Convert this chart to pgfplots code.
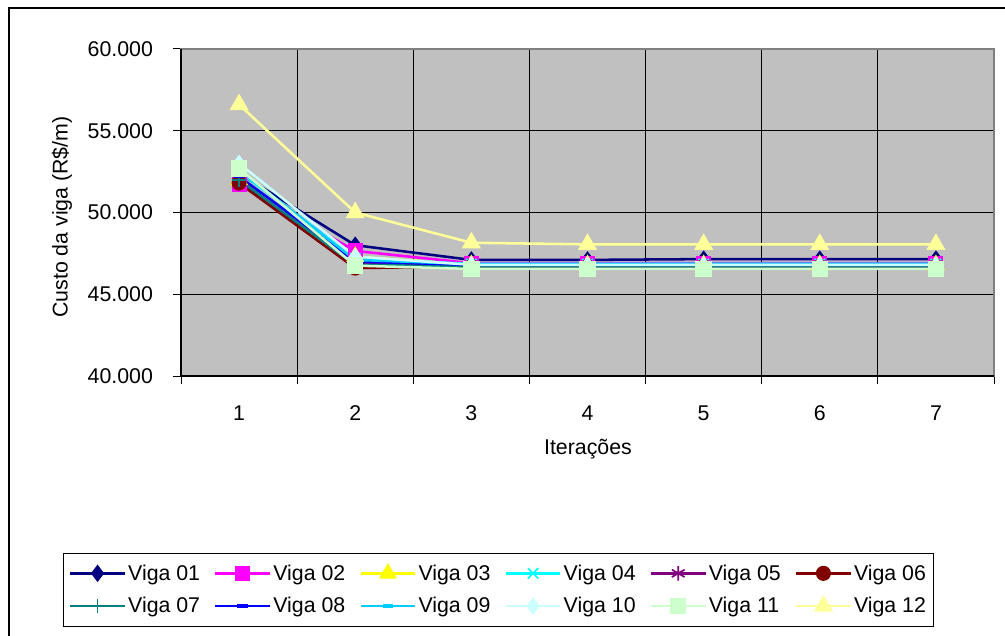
\documentclass[border=0pt]{standalone}
\usepackage{fontspec}
\setmainfont{Liberation Sans}
\usepackage{pgfplots}
\pgfplotsset{compat=1.18}

\definecolor{c01}{HTML}{000080}
\definecolor{c02}{HTML}{FF00FF}
\definecolor{c03}{HTML}{FFFF00}
\definecolor{c04}{HTML}{00FFFF}
\definecolor{c05}{HTML}{800080}
\definecolor{c06}{HTML}{800000}
\definecolor{c07}{HTML}{008080}
\definecolor{c08}{HTML}{0000FF}
\definecolor{c09}{HTML}{00CCFF}
\definecolor{c10}{HTML}{CCFFFF}
\definecolor{c11}{HTML}{CCFFCC}
\definecolor{c12}{HTML}{FFFF99}
\definecolor{plotbg}{HTML}{C0C0C0}
\definecolor{plotedge}{HTML}{808080}

\newcommand{\chartfont}{\fontsize{16}{19}\selectfont}

\pgfplotsset{
  viga/.style n args={2}{color=#1, line width=1.9pt, mark=#2,
    mark options={solid, fill=#1, line width=1.3pt}},
}

\begin{document}
\begin{tikzpicture}
\useasboundingbox (0,0) rectangle (753.75pt,476.25pt);
\fill[white] (0,0) rectangle (753.75pt,476.25pt);
% chart frame
\draw[line width=1.3pt] (6.75pt,-10pt) -- (6.75pt,470.25pt) -- (770pt,470.25pt);

\begin{axis}[
  name=ax,
  at={(135.75pt,194.25pt)}, anchor=south west,
  scale only axis, width=609.75pt, height=245.25pt,
  xmin=0.5, xmax=7.5, ymin=40000, ymax=60000,
  scaled y ticks=false,
  xtick={0.5,1.5,...,7.5},
  x tick label as interval,
  xticklabels={1,2,3,4,5,6,7},
  ytick={40000,45000,50000,55000,60000},
  yticklabels={40.000,45.000,50.000,55.000,60.000},
  xtick pos=bottom, ytick pos=left,
  xmajorgrids, ymajorgrids,
  grid style={black, line width=0.75pt},
  tick align=outside, major tick length=6pt,
  tick style={black, line width=0.75pt},
  axis line style={plotedge, line width=1pt},
  axis background/.style={fill=plotbg},
  ticklabel style={font=\chartfont},
  yticklabel style={xshift=-11.5pt},
  xticklabel style={yshift=-12.5pt},
  label style={font=\chartfont},
  xlabel={Iterações},
  ylabel={Custo da viga (R\$/m)},
  xlabel style={at={(axis description cs:0.5006,-0.224)}, anchor=center},
  ylabel style={at={(axis description cs:-0.1464,0.486)}, anchor=center},
  legend columns=6,
  legend style={
    at={(0.3905,-0.5413)}, anchor=north,
    draw=black, fill=white,
    font=\chartfont,
    inner xsep=4pt, inner ysep=7pt,
    nodes={inner sep=1.5pt},
    /tikz/every even column/.append style={column sep=9pt},
    /tikz/row sep=8.5pt,
  },
  legend cell align=left,
  legend image code/.code={
    \draw[line width=1.9pt, mark repeat=2, mark phase=2]
      plot coordinates {(0pt,0pt) (20.5pt,0pt) (41pt,0pt)};
  },
]
\addplot[viga={c01}{diamond*}, mark size=5.5pt] coordinates
  {(1,52400) (2,48000) (3,47100) (4,47100) (5,47150) (6,47150) (7,47150)};
\addplot[viga={c02}{square*}, mark size=5pt] coordinates
  {(1,51700) (2,47650) (3,46900) (4,46900) (5,46900) (6,46900) (7,46900)};
\addplot[viga={c03}{triangle*}, mark size=6.5pt] coordinates
  {(1,52000) (2,47300) (3,46800) (4,46800) (5,46800) (6,46800) (7,46800)};
\addplot[viga={c04}{x}, mark size=5.5pt] coordinates
  {(1,52500) (2,47200) (3,46850) (4,46850) (5,46850) (6,46850) (7,46850)};
\addplot[viga={c05}{asterisk}, mark size=5.5pt] coordinates
  {(1,51900) (2,46900) (3,46750) (4,46750) (5,46750) (6,46750) (7,46750)};
\addplot[viga={c06}{*}, mark size=5pt] coordinates
  {(1,51800) (2,46600) (3,46700) (4,46700) (5,46700) (6,46700) (7,46700)};
\addplot[viga={c07}{+}, mark size=5.5pt] coordinates
  {(1,52000) (2,46800) (3,46700) (4,46700) (5,46700) (6,46700) (7,46700)};
\addplot[viga={c08}{-}, mark size=4pt, mark options={line width=2.8pt}] coordinates
  {(1,52200) (2,47000) (3,46800) (4,46800) (5,46800) (6,46800) (7,46800)};
\addplot[viga={c09}{-}, mark size=4pt, mark options={line width=2.8pt}] coordinates
  {(1,52600) (2,47100) (3,46850) (4,46850) (5,46850) (6,46850) (7,46850)};
\addplot[viga={c10}{diamond*}, mark size=5.5pt] coordinates
  {(1,53000) (2,47300) (3,46800) (4,46800) (5,46800) (6,46800) (7,46800)};
\addplot[viga={c11}{square*}, mark size=5.5pt] coordinates
  {(1,52700) (2,46750) (3,46550) (4,46550) (5,46550) (6,46550) (7,46550)};
\addplot[viga={c12}{triangle*}, mark size=7pt] coordinates
  {(1,56600) (2,50000) (3,48150) (4,48050) (5,48050) (6,48050) (7,48050)};
\legend{Viga 01,Viga 02,Viga 03,Viga 04,Viga 05,Viga 06,
        Viga 07,Viga 08,Viga 09,Viga 10,Viga 11,Viga 12}
\end{axis}
% left and bottom axis lines
\draw[black, line width=1pt] (ax.north west) -- (ax.south west) -- (ax.south east);
\end{tikzpicture}
\end{document}
